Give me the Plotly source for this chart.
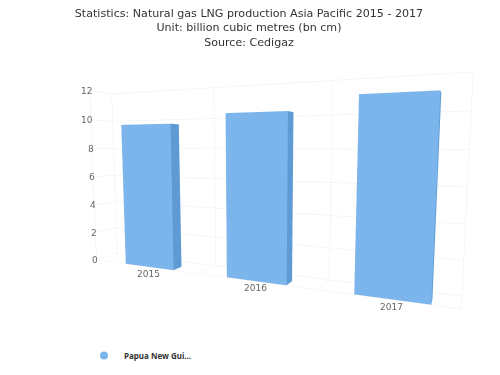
import plotly.graph_objects as go
import math

categories = ["2015", "2016", "2017"]
values = [9.6, 10.15, 10.9]
y_ticks = [0, 2, 4, 6, 8, 10, 12]
series_name = "Papua New Gui..."
title_lines = ["Statistics: Natural gas LNG production Asia Pacific 2015 - 2017",
               "Unit: billion cubic metres (bn cm)", "Source: Cedigaz"]
bar_half = 0.25
depth_front, depth_back = 0.02, 0.45
front_col, side_col, top_col = "#7cb5ec", "#5e9bd4", "#8fc4f2"
grid = "#eeeeee"
text_col = "#666666"

fig = go.Figure()
for i, v in enumerate(values):
    x0, x1 = i - bar_half, i + bar_half
    y0, y1 = depth_front, depth_back
    xs = [x0, x1, x1, x0, x0, x1, x1, x0]
    ys = [y0, y0, y1, y1, y0, y0, y1, y1]
    zs = [0, 0, 0, 0, v, v, v, v]
    I = [0, 0, 1, 1, 0, 0, 4, 4, 3, 3, 0, 0]
    J = [1, 5, 2, 6, 3, 7, 5, 6, 2, 6, 1, 2]
    K = [5, 4, 6, 5, 7, 4, 6, 7, 6, 7, 2, 3]
    fc = [front_col]*2 + [side_col]*2 + [side_col]*2 + [top_col]*2 + [side_col]*2 + [side_col]*2
    fig.add_trace(go.Mesh3d(x=xs, y=ys, z=zs, i=I, j=J, k=K, facecolor=fc, flatshading=True,
                            lighting=dict(ambient=1, diffuse=0, specular=0, fresnel=0, roughness=1),
                            hoverinfo="skip", showlegend=False, showscale=False))
fig.add_trace(go.Scatter3d(x=[None], y=[None], z=[None], mode="markers", name=series_name,
                           marker=dict(color=front_col, size=8, symbol="circle"), showlegend=True))

x_lo, x_hi = -0.58, 2.43
W, H, D = 2.0*(x_hi - x_lo)/3, 1.0, 0.18
psi, theta = math.radians(24.3), math.radians(6.2)
eye = dict(x=1.93 - ((x_lo + x_hi)/2 + 0.5)*2/3, y=-2.21 + D/2, z=0.18)
r = 2.2
center = dict(x=eye["x"] - r*math.sin(psi)*math.cos(theta),
              y=eye["y"] + r*math.cos(psi)*math.cos(theta),
              z=eye["z"] - r*math.sin(theta))
roll = 0.015
up = dict(x=roll*math.cos(psi), y=roll*math.sin(psi), z=1)

ann = [dict(x=i, y=0, z=0, text=c, showarrow=False, yshift=-7,
            font=dict(size=9, color=text_col, family="DejaVu Sans")) for i, c in enumerate(categories)]
ann += [dict(x=x_lo, y=0, z=t, text=str(t), showarrow=False, xanchor="right", xshift=4,
             font=dict(size=9, color=text_col, family="DejaVu Sans")) for t in y_ticks]

def ax(**kw):
    return dict(title="", showticklabels=False, showbackground=False, zeroline=False, showline=False,
                showspikes=False, gridcolor=grid, gridwidth=1, ticks="", autorange=False, **kw)

fig.update_layout(
    width=500, height=375, margin=dict(l=0, r=0, t=0, b=0), paper_bgcolor="white",
    title=dict(text="<br>".join(title_lines), x=0.482, xanchor="center", y=0.976, yanchor="top",
               font=dict(size=11.1, color="#333333", family="DejaVu Sans")),
    legend=dict(x=0.152, y=0.112, xanchor="left", yanchor="top", orientation="h",
                font=dict(size=8, color="#333333", family="Noto Sans", weight="bold")),
    scene=dict(
        domain=dict(x=[0, 1], y=[0, 1]),
        xaxis=ax(range=[x_lo, x_hi], tickmode="array", tickvals=[x_lo, 0.5, 1.5, x_hi]),
        yaxis=ax(range=[0, 1], tickmode="array", tickvals=[0, 1]),
        zaxis=ax(range=[0, 12], tickmode="array", tickvals=y_ticks),
        aspectmode="manual", aspectratio=dict(x=W, y=D, z=H),
        camera=dict(eye=eye, center=center, up=up, projection=dict(type="perspective")),
        annotations=ann,
    ),
)
fig.write_html("out.html")
